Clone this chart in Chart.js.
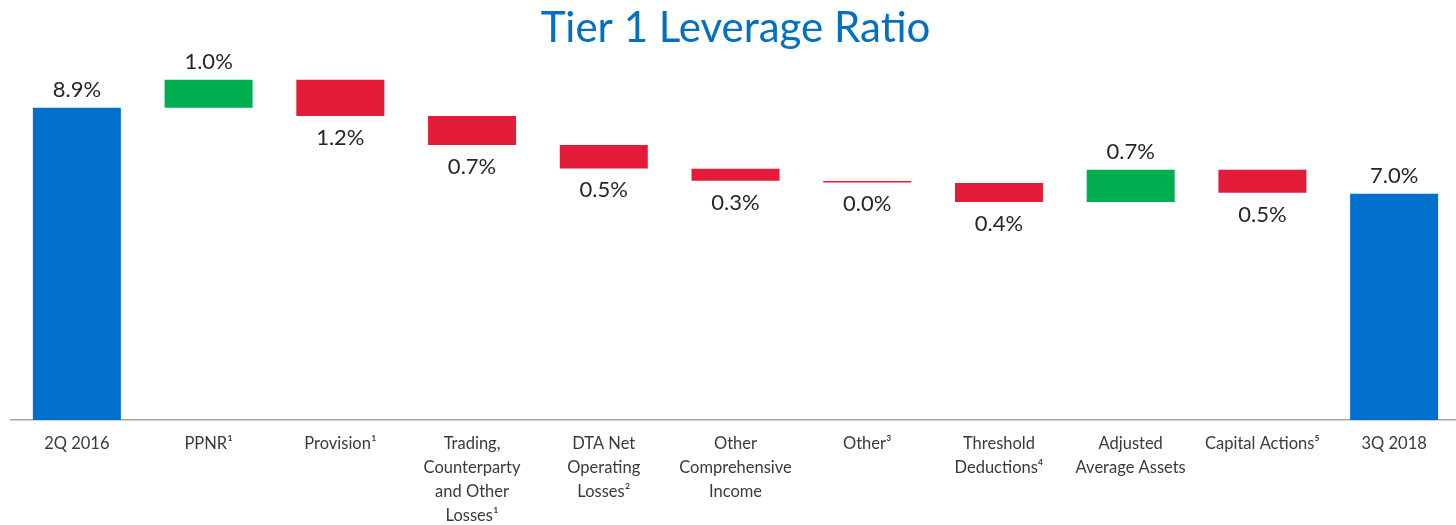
<!DOCTYPE html>
<html>
<head>
<meta charset="utf-8">
<script src="https://cdn.jsdelivr.net/npm/chart.js@4"></script>
<style>
  html, body { margin: 0; padding: 0; background: #fff; overflow: hidden; }
  #wrap { width: 1460px; height: 525px; }
</style>
</head>
<body>
<div id="wrap"><canvas id="c"></canvas></div>
<script>
// ---- data ----
const categories = [
  '2Q 2016',
  'PPNR\u00B9',
  'Provision\u00B9',
  ['Trading,', 'Counterparty', 'and Other', 'Losses\u00B9'],
  ['DTA Net', 'Operating', 'Losses\u00B2'],
  ['Other', 'Comprehensive', 'Income'],
  'Other\u00B3',
  ['Threshold', 'Deductions\u2074'],
  ['Adjusted', 'Average Assets'],
  'Capital Actions\u2075',
  '3Q 2018'
];
// bar bottoms and tops (in %, as drawn)
const barLow  = [0,   8.90, 8.72, 8.08, 7.56, 7.29, 7.25, 6.82, 6.82, 7.02, 0];
const barHigh = [8.9, 9.52, 9.52, 8.72, 8.08, 7.55, 7.28, 7.24, 7.53, 7.53, 7.0];
// kind of step: total / up / down
const barKind = ['total', 'up', 'down', 'down', 'down', 'down', 'down', 'down', 'up', 'down', 'total'];
const valueLabels = ['8.9%', '1.0%', '1.2%', '0.7%', '0.5%', '0.3%', '0.0%', '0.4%', '0.7%', '0.5%', '7.0%'];

const kindColors = { total: '#0070CC', up: '#00AE50', down: '#E31A38' };

const valueLabelPlugin = {
  id: 'valueLabels',
  afterDatasetsDraw(chart) {
    const ctx = chart.ctx;
    const meta = chart.getDatasetMeta(0);
    ctx.save();
    ctx.font = '22px Lato';
    ctx.fillStyle = '#262626';
    ctx.textAlign = 'center';
    ctx.textBaseline = 'alphabetic';
    meta.data.forEach((bar, i) => {
      const top = Math.min(bar.y, bar.base);
      const bottom = Math.max(bar.y, bar.base);
      if (barKind[i] === 'down') {
        ctx.fillText(valueLabels[i], bar.x, bottom + 29);
      } else {
        ctx.fillText(valueLabels[i], bar.x, top - 11);
      }
    });
    ctx.restore();
  }
};

new Chart(document.getElementById('c'), {
  type: 'bar',
  data: {
    labels: categories,
    datasets: [{
      data: barLow.map((lo, i) => [lo, barHigh[i]]),
      backgroundColor: barKind.map(k => kindColors[k]),
      borderWidth: 0,
      categoryPercentage: 1.0,
      barPercentage: 0.668
    }]
  },
  options: {
    responsive: true,
    maintainAspectRatio: false,
    animation: false,
    layout: { padding: { left: 11, right: 0, top: 0, bottom: 0 } },
    plugins: {
      legend: { display: false },
      tooltip: { enabled: false },
      title: {
        display: true,
        text: 'Tier 1 Leverage Ratio',
        color: '#0070C0',
        font: { family: 'Lato', size: 42, weight: 'normal', lineHeight: 1.2 },
        padding: { top: 3, bottom: 4.6 }
      }
    },
    scales: {
      x: {
        grid: { display: false, drawTicks: false },
        border: { display: true, color: '#A6A6A6', width: 1.5 },
        ticks: {
          color: '#3a3a3a',
          font: { family: 'Lato', size: 16.5, lineHeight: 1.45 },
          padding: 12,
          maxRotation: 0,
          minRotation: 0,
          autoSkip: false
        },
        afterFit(scale) { scale.height = 105; }
      },
      y: {
        display: false,
        min: 2,
        max: 10
      }
    }
  },
  plugins: [valueLabelPlugin]
});
</script>
</body>
</html>
